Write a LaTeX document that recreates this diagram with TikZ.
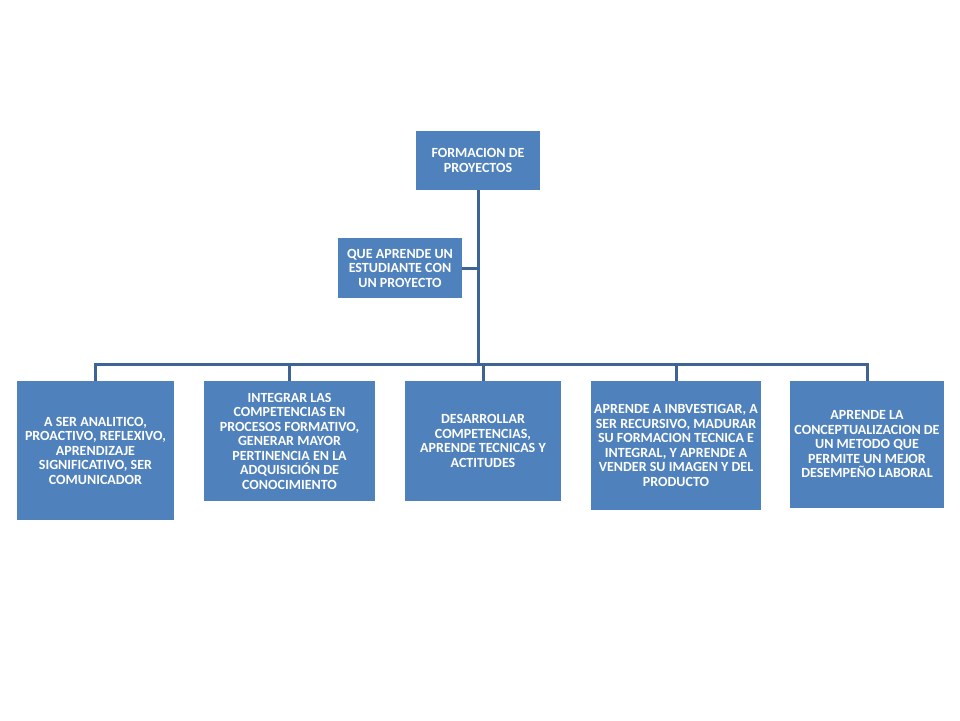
\documentclass[tikz,border=0pt]{standalone}
\usepackage{fontspec}
\setmainfont{Carlito}
\usepackage{xcolor}
\definecolor{boxblue}{HTML}{4F81BD}
\definecolor{lineblue}{HTML}{3D6494}

\begin{document}
\begin{tikzpicture}[x=1pt,y=-1pt,
		caja/.style={fill=boxblue, text=white, inner sep=0pt, align=center,
			font=\fontsize{14}{14.5}\selectfont\bfseries},
		rama/.style={draw=lineblue, line width=3pt}]
		\useasboundingbox (0,0) rectangle (960,720);
		\node[caja, minimum width=124pt, minimum height=59pt] (raiz) at (478,160.5) {FORMACION DE\\PROYECTOS};
		\node[caja, minimum width=124pt, minimum height=60pt] (pregunta) at (400,268) {QUE APRENDE UN\\ESTUDIANTE CON\\UN PROYECTO};
		\coordinate (bus) at (478,364);
		\node[caja, minimum width=157pt, minimum height=139pt] (b1) at (95.5,450.5) {A SER ANALITICO,\\PROACTIVO, REFLEXIVO,\\APRENDIZAJE\\SIGNIFICATIVO, SER\\COMUNICADOR};
		\node[caja, minimum width=171pt, minimum height=120pt] (b2) at (289.5,441) {INTEGRAR LAS\\COMPETENCIAS EN\\PROCESOS FORMATIVO,\\GENERAR MAYOR\\PERTINENCIA EN LA\\ADQUISICIÓN DE\\CONOCIMIENTO};
		\node[caja, minimum width=156pt, minimum height=120pt] (b3) at (483,441) {DESARROLLAR\\COMPETENCIAS,\\APRENDE TECNICAS Y\\ACTITUDES};
		\node[caja, minimum width=170pt, minimum height=129pt] (b4) at (676,445.5) {APRENDE A INBVESTIGAR, A\\SER RECURSIVO, MADURAR\\SU FORMACION TECNICA E\\INTEGRAL, Y APRENDE A\\VENDER SU IMAGEN Y DEL\\PRODUCTO};
		\node[caja, minimum width=154pt, minimum height=127pt] (b5) at (867,444.5) {APRENDE LA\\CONCEPTUALIZACION DE\\UN METODO QUE\\PERMITE UN MEJOR\\DESEMPEÑO LABORAL};
		\draw[rama] (raiz.south) -- (bus);
		\draw[rama] (pregunta.east) -- (pregunta.east -| raiz.south);
		\draw[rama] (b1.north) |- (b5.north |- bus) -- (b5.north);
		\foreach \n in {b2,b3,b4}
			\draw[rama] (\n.north) -- (\n.north |- bus);
	\end{tikzpicture}
\end{document}
